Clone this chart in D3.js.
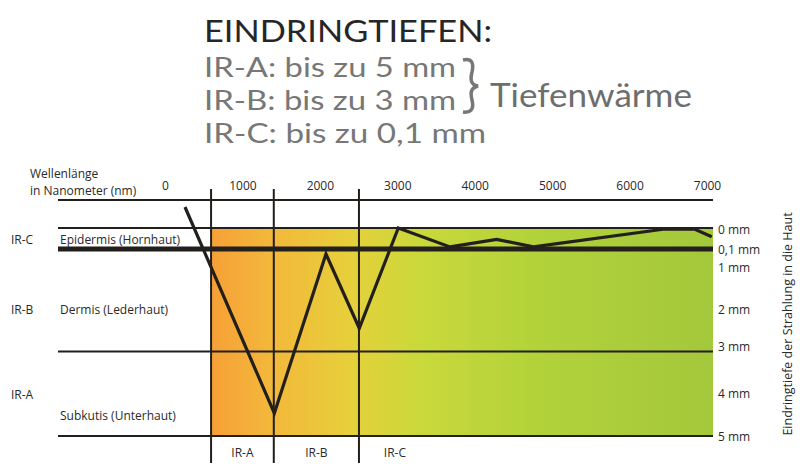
<!DOCTYPE html>
<html><head><meta charset="utf-8">
<script src="https://cdn.jsdelivr.net/npm/d3@7"></script>
<style>
html,body{margin:0;padding:0;background:#fff;}
svg{display:block;font-family:"Open Sans","Noto Sans",sans-serif;}
</style></head>
<body>
<div id="chart"></div>
<script>
// ---- data ----
const wavelengthTicks = [0, 1000, 2000, 3000, 4000, 5000, 6000, 7000];
const depthTicks = [0, 0.1, 1, 2, 3, 4, 5];
const depthTickLabels = ["0 mm", "0,1 mm", "1 mm", "2 mm", "3 mm", "4 mm", "5 mm"];
const bandNames = ["IR-A", "IR-B", "IR-C"];
const bandBoundsNm = [595, 1405, 2505];
const layerLines = [0, 3, 5];           // thin horizontal lines (mm)
const epidermisLine = 0.1;               // thick line (mm)
const lineNm    = [258, 1412, 2079, 2509, 3013, 3681, 4284, 4757, 6432, 6845, 7061];
const lineDepth = [-0.1, 4.46, 0.35, 2.45, 0.0, 0.09, 0.054, 0.09, 0.006, 0.006, 0.042];
const layerNames = ["Epidermis (Hornhaut)", "Dermis (Lederhaut)", "Subkutis (Unterhaut)"];
const layerNameDepth = [0.05, 2, 4.5];
const rangeNames = ["IR-C", "IR-B", "IR-A"];
const rangeNameDepth = [0.05, 2, 4];
const titleText = "EINDRINGTIEFEN:";
const summaryLines = ["IR-A: bis zu 5 mm", "IR-B: bis zu 3 mm", "IR-C: bis zu 0,1 mm"];
const braceLabel = "Tiefenwärme";

// ---- layout ----
const W = 800, H = 470;
const left = 58, right = 713;
const x = d3.scaleLinear().domain([0, 7000]).range([165, 707]);
const y = d3.scaleLinear().domain([0, 0.1, 1, 5]).range([228, 249, 267, 436]);
const axisY = 200, vTop = 189, vBottom = 463;
const ink = "#231f1c";
const headFont = "Lato,'Open Sans',sans-serif";

const svg = d3.select("#chart").append("svg").attr("width", W).attr("height", H);
svg.append("rect").attr("width", W).attr("height", H).attr("fill", "#fff");

const defs = svg.append("defs");
const grad = defs.append("linearGradient").attr("id", "g").attr("x1", "0%").attr("x2", "100%");
[["0%", "#f6a037"], ["12%", "#f3b83b"], ["28%", "#e6d03a"], ["42%", "#c9d93a"], ["65%", "#b2d23a"], ["100%", "#a4c83c"]]
  .forEach(s => grad.append("stop").attr("offset", s[0]).attr("stop-color", s[1]));

// coloured area
svg.append("rect")
  .attr("x", x(bandBoundsNm[0])).attr("y", y(0))
  .attr("width", right - x(bandBoundsNm[0])).attr("height", y(5) - y(0))
  .attr("fill", "url(#g)");

// horizontal lines
svg.append("line").attr("x1", left).attr("x2", right).attr("y1", axisY).attr("y2", axisY)
  .attr("stroke", ink).attr("stroke-width", 2);
svg.selectAll("line.layer").data(layerLines).join("line").attr("class", "layer")
  .attr("x1", left).attr("x2", right).attr("y1", d => y(d)).attr("y2", d => y(d))
  .attr("stroke", ink).attr("stroke-width", 2);
svg.append("line").attr("x1", left).attr("x2", right).attr("y1", y(epidermisLine)).attr("y2", y(epidermisLine))
  .attr("stroke", ink).attr("stroke-width", 5);

// vertical band lines
svg.selectAll("line.band").data(bandBoundsNm).join("line").attr("class", "band")
  .attr("x1", d => x(d)).attr("x2", d => x(d)).attr("y1", vTop).attr("y2", vBottom)
  .attr("stroke", ink).attr("stroke-width", 2);

// wavelength axis labels
const ax = svg.append("g").attr("transform", `translate(0,${axisY})`)
  .call(d3.axisTop(x).tickValues(wavelengthTicks).tickFormat(d3.format("d")).tickSize(0).tickPadding(10));
ax.select(".domain").remove();
ax.selectAll("text").attr("font-family", "'Open Sans',sans-serif").attr("font-size", 12).attr("fill", "#2a2a2a");

// depth axis labels
const ay = svg.append("g").attr("transform", `translate(${right},0)`)
  .call(d3.axisRight(y).tickValues(depthTicks).tickFormat((d, i) => depthTickLabels[i]).tickSize(0).tickPadding(5));
ay.select(".domain").remove();
ay.selectAll("text").attr("font-family", "'Open Sans',sans-serif").attr("font-size", 12).attr("fill", "#2a2a2a")
  .attr("dy", (d, i) => d === 3 ? "-0.05em" : (d === 0 ? "0.45em" : "0.35em"));

// penetration line
const pts = lineNm.map((n, i) => [x(n), y(lineDepth[i])]);
svg.append("path").attr("d", d3.line()(pts)).attr("fill", "none")
  .attr("stroke", ink).attr("stroke-width", 3.2).attr("stroke-linejoin", "miter");

// left texts
const txt = (t, xx, yy, opts = {}) => svg.append("text").attr("x", xx).attr("y", yy).text(t)
  .attr("font-size", opts.size || 12).attr("fill", opts.fill || "#2a2a2a")
  .attr("text-anchor", opts.anchor || "start");
txt("Wellenlänge", 30, 178);
txt("in Nanometer (nm)", 30, 195);
layerNames.forEach((n, i) => txt(n, 60, y(layerNameDepth[i]) + 5));
rangeNames.forEach((n, i) => txt(n, 11, y(rangeNameDepth[i]) + 5));

// bottom band labels
const bandEnds = bandBoundsNm.map((b, i) => i < bandBoundsNm.length - 1 ? x(bandBoundsNm[i + 1]) : x(bandBoundsNm[i]) + 72);
bandNames.forEach((n, i) => txt(n, (x(bandBoundsNm[i]) + bandEnds[i]) / 2, 457, { anchor: "middle" }));

// right rotated title
svg.append("text").attr("transform", "translate(792,324) rotate(-90)")
  .attr("text-anchor", "middle").attr("font-size", 12.5).attr("fill", "#2a2a2a")
  .text("Eindringtiefe der Strahlung in die Haut");

// header
svg.append("text").attr("x", 204).attr("y", 42).attr("font-family", headFont).attr("font-size", 31).attr("fill", "#262626")
  .attr("textLength", 288).attr("lengthAdjust", "spacingAndGlyphs").text(titleText);
const sumY = [77, 110, 143], sumW = [252, 252, 282];
summaryLines.forEach((s, i) => svg.append("text").attr("x", 204).attr("y", sumY[i]).attr("font-family", headFont)
  .attr("font-size", 27).attr("fill", "#777")
  .attr("textLength", sumW[i]).attr("lengthAdjust", "spacingAndGlyphs").text(s));
// brace
svg.append("path")
  .attr("d", "M463,60 C472,58 474,63 472,72 C470,80 471,85 478,86 C471,88 470,92 472,100 C474,108 472,113 463,112")
  .attr("fill", "none").attr("stroke", "#777").attr("stroke-width", 3.5);
svg.append("text").attr("x", 490).attr("y", 107).attr("font-family", headFont).attr("font-size", 33).attr("fill", "#6e6e6e")
  .attr("textLength", 202).attr("lengthAdjust", "spacingAndGlyphs").text(braceLabel);
</script>
</body></html>
